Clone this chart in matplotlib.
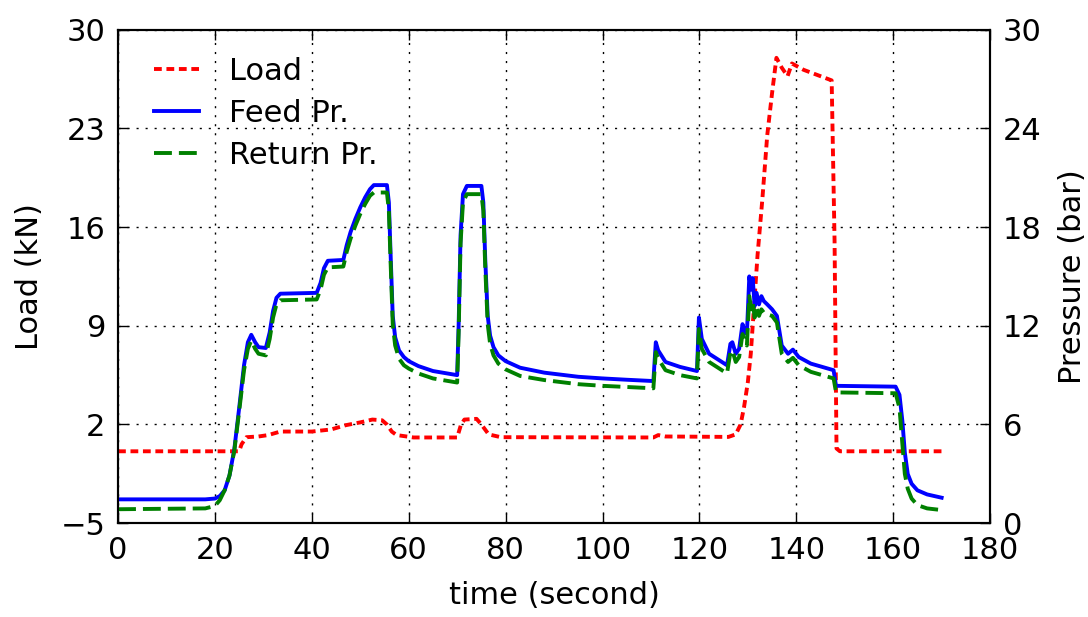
import matplotlib
matplotlib.use("Agg")
import matplotlib.pyplot as plt

# --- data ---
t_load = [0, 25, 25.5, 26.5, 29, 31, 33.5, 40, 44, 47, 50, 52.5, 54.5, 55.5, 56.5, 57.5, 61, 70,
          70.8, 71.5, 74, 75, 76.5, 79, 110.5, 111.5, 113, 126, 127.5, 128.5, 129.2, 130, 130.6,
          131.3, 132, 133, 134, 135, 135.9, 137, 138.2, 139.1, 141.5, 147.3, 147.9, 148.3, 149, 170]
load = [0.1, 0.1, 0.6, 1.1, 1.15, 1.25, 1.5, 1.5, 1.65, 1.95, 2.15, 2.35, 2.3, 2.0, 1.5, 1.25, 1.08, 1.08,
        2.0, 2.35, 2.4, 2.0, 1.3, 1.1, 1.08, 1.25, 1.15, 1.12, 1.3, 2.0, 3.2, 5.0, 7.0,
        10.5, 14.0, 18.0, 22.5, 25.5, 28.0, 27.3, 26.7, 27.6, 27.15, 26.4, 15.0, 0.3, 0.1, 0.1]

t_pr = [0, 18, 20, 21, 22, 23, 24, 25, 26, 26.8, 27.5, 28.3, 29, 30.5, 31.3, 32, 32.7, 33.5, 41.0,
        41.8, 42.5, 43.3, 46.5, 47.2, 48, 49, 50, 51, 52, 52.8, 55.5, 55.9, 56.3, 56.7, 57.2, 58, 59,
        60, 62, 65, 70,
        70.3, 70.7, 71.2, 72, 75, 75.4, 75.8, 76.3, 76.8, 77.5, 78.5, 80, 83, 88, 95, 100, 105, 110.5,
        111.0, 111.5, 113, 116, 119.5, 119.9, 120.5, 122, 125.7, 126.4, 126.8, 127.5, 128.2, 128.9,
        129.4, 129.8, 130.3, 130.7, 131.0, 131.4, 131.8, 132.3, 132.8, 133.3, 134, 135, 136, 137,
        138.3, 139.3, 140.5, 143, 147.7, 148.2, 160.5, 161.3, 161.9, 162.4, 163, 163.8, 165, 167, 170]
feed = [1.45, 1.45, 1.5, 1.65, 2.0, 2.9, 4.5, 7.0, 9.6, 11.0, 11.45, 11.0, 10.7, 10.65, 11.6, 12.9,
        13.7, 13.95, 14.0,
        14.6, 15.5, 15.95, 16.0, 16.9, 17.7, 18.5, 19.2, 19.8, 20.3, 20.55, 20.55, 19.5, 16.0, 12.6,
        11.3, 10.5, 10.1,
        9.85, 9.55, 9.25, 9.0,
        12.0, 17.5, 20.0, 20.5, 20.5, 19.5, 16.0, 12.6, 11.4, 10.7, 10.2, 9.85, 9.45, 9.15, 8.9, 8.8, 8.72,
        8.64,
        11.0, 10.5, 9.8, 9.5, 9.25, 12.5, 11.2, 10.3, 9.6, 10.9, 11.0, 10.3, 10.6, 12.1,
        11.6, 11.5, 15.0, 14.2, 14.9, 13.2, 14.0, 13.3, 13.8, 13.5, 13.3, 13.0, 12.6, 10.8,
        10.3, 10.55, 10.1, 9.7, 9.3, 8.35, 8.3, 7.8, 6.2, 4.3, 3.0, 2.4, 2.0, 1.75, 1.55]
ret = [0.85, 0.9, 1.05, 1.4, 2.0, 2.9, 4.4, 6.8, 9.3, 10.6, 11.1, 10.6, 10.3, 10.2, 11.2, 12.5,
       13.3, 13.55, 13.6,
       14.2, 15.1, 15.55, 15.6, 16.5, 17.3, 18.1, 18.8, 19.4, 19.9, 20.1, 20.1, 19.0, 15.5, 12.1,
       10.8, 10.0, 9.6,
       9.4, 9.1, 8.8, 8.55,
       11.5, 17.0, 19.5, 20.0, 20.0, 19.0, 15.5, 12.1, 10.9, 10.2, 9.7, 9.35, 8.95, 8.7, 8.45, 8.35, 8.28,
       8.2,
       10.4, 10.0, 9.3, 9.0, 8.8, 11.8, 10.6, 9.8, 9.1, 10.4, 10.5, 9.8, 10.1, 11.5,
       11.0, 10.8, 13.8, 13.0, 13.5, 12.5, 13.1, 12.6, 13.0, 12.8, 12.7, 12.6, 12.2, 10.3,
       9.8, 10.05, 9.6, 9.2, 8.8, 7.95, 7.9, 7.0, 4.8, 3.0, 2.1, 1.5, 1.1, 0.9, 0.8]

x_ticks = list(range(0, 181, 20))
load_ticks = [-5, 2, 9, 16, 23, 30]
pr_ticks = [0, 6, 12, 18, 24, 30]

fs = 22
plt.rcParams['font.family'] = 'DejaVu Sans'
plt.rcParams['font.size'] = fs

fig, ax1 = plt.subplots(figsize=(10.88, 6.17), dpi=100)
fig.subplots_adjust(left=0.1085, right=0.91, top=0.952, bottom=0.152)

l1, = ax1.plot(t_load, load, color='red', lw=2.8, dashes=(2.0, 1.2), label='Load')
ax1.set_xlim(0, 180)
ax1.set_ylim(-5, 30)
ax1.set_xticks(x_ticks)
ax1.set_yticks(load_ticks)
ax1.set_xlabel('time (second)', labelpad=12)
ax1.set_ylabel('Load (kN)', labelpad=12)
ax1.grid(True, color='k', linestyle=(0, (1.5, 5)), linewidth=1.0)
ax1.tick_params(direction='in', length=7, width=1, pad=9, top=True, labelsize=fs)

ax2 = ax1.twinx()
l2, = ax2.plot(t_pr, feed, color='blue', lw=2.8, label='Feed Pr.')
l3, = ax2.plot(t_pr, ret, color='green', lw=2.8, dashes=(4.6, 1.8), label='Return Pr.')
ax2.set_ylim(0, 30)
ax2.set_yticks(pr_ticks)
ax2.set_ylabel('Pressure (bar)', labelpad=12)
ax2.tick_params(direction='in', length=7, width=1, pad=9, labelsize=fs)

for ax in (ax1, ax2):
    for s in ax.spines.values():
        s.set_linewidth(1.5)

ax1.legend(handles=[l1, l2, l3], loc='upper left', frameon=False, fontsize=fs,
           handlelength=1.45, handletextpad=1.0, labelspacing=0.42,
           bbox_to_anchor=(0.01, 1.0))

fig.savefig('out.png', dpi=100, facecolor='white')
